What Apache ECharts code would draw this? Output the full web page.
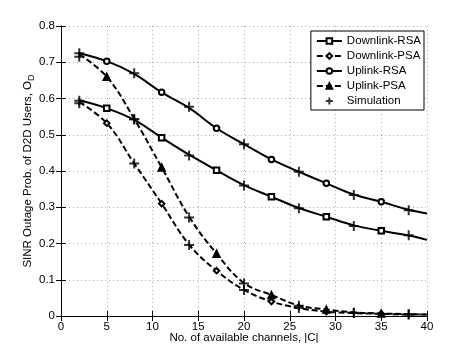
<!DOCTYPE html>
<html>
<head>
<meta charset="utf-8">
<script src="https://cdn.jsdelivr.net/npm/echarts@6/dist/echarts.min.js"></script>
<style>
  html, body { margin: 0; padding: 0; background: #fff; }
  #chart { width: 474px; height: 356px; }
</style>
</head>
<body>
<div id="chart"></div>
<script>
// analytical curves, sampled every 3 channels (plus the end point)
const xLine = [2, 5, 8, 11, 14, 17, 20, 23, 26, 29, 32, 35, 38, 40];
const downlinkRSA = [0.595, 0.573, 0.541, 0.492, 0.445, 0.402, 0.361, 0.329, 0.298, 0.274, 0.250, 0.235, 0.222, 0.210];
const downlinkPSA = [0.590, 0.532, 0.421, 0.310, 0.197, 0.125, 0.072, 0.040, 0.022, 0.012, 0.008, 0.006, 0.004, 0.004];
const uplinkRSA = [0.725, 0.703, 0.668, 0.617, 0.574, 0.518, 0.474, 0.432, 0.398, 0.366, 0.335, 0.315, 0.293, 0.283];
const uplinkPSA = [0.722, 0.660, 0.544, 0.410, 0.274, 0.172, 0.091, 0.058, 0.029, 0.018, 0.010, 0.007, 0.005, 0.004];
// markers only drawn at these x values
const markerX = [5, 11, 17, 23, 29, 35];

// simulation results
const simX = [2, 8, 14, 20, 26, 32, 38];
const simDownlinkRSA = [0.594, 0.543, 0.443, 0.360, 0.297, 0.248, 0.223];
const simDownlinkPSA = [0.587, 0.421, 0.196, 0.072, 0.022, 0.008, 0.004];
const simUplinkRSA = [0.725, 0.670, 0.577, 0.474, 0.398, 0.334, 0.292];
const simUplinkPSA = [0.715, 0.543, 0.272, 0.090, 0.028, 0.009, 0.005];

const FONT = 'Liberation Sans';
const FS = 11.5;
const crossPath = 'path://M0,5L10,5M5,0L5,10';

function lineData(ys) {
    return xLine.map((x, i) => {
        if (markerX.includes(x)) return [x, ys[i]];
        return { value: [x, ys[i]], symbol: 'none' };
    });
}

function curve(name, ys, symbol, dashed) {
    return {
        name: name,
        type: 'line',
        data: lineData(ys),
        smooth: 0.4,
        symbol: symbol,
        symbolSize: symbol === 'triangle' ? 7 : 5.5,
        showAllSymbol: true,
        lineStyle: { color: '#000', width: 2, type: dashed ? [6, 3] : 'solid' },
        itemStyle: { color: '#000', borderColor: '#000', borderWidth: 1.5 },
        z: 3,
    };
}

const simData = [];
[simDownlinkRSA, simDownlinkPSA, simUplinkRSA, simUplinkPSA].forEach((arr) => {
    arr.forEach((y, i) => simData.push([simX[i], y]));
});

const axisLine = { show: true, lineStyle: { color: '#000', width: 1 } };
const tickStyle = { show: true, inside: true, length: 5, lineStyle: { color: '#000' } };
const labelStyle = { color: '#000', fontFamily: FONT, fontSize: FS };

const option = {
    backgroundColor: '#fff',
    animation: false,
    grid: { left: 61, right: 47, top: 26, bottom: 40, outerBoundsMode: 'none' },
    legend: {
        orient: 'vertical',
        right: 50,
        top: 31,
        backgroundColor: '#fff',
        borderColor: '#000',
        borderWidth: 1,
        borderRadius: 0,
        padding: [3, 3, 2, 5],
        itemGap: 1,
        itemWidth: 25,
        itemHeight: 7,
        textStyle: { color: '#000', fontFamily: FONT, fontSize: FS, lineHeight: 14 },
        data: ['Downlink-RSA', 'Downlink-PSA', 'Uplink-RSA', 'Uplink-PSA', 'Simulation'],
    },
    xAxis: [
        {
            type: 'value', min: 0, max: 40, interval: 5,
            name: 'No. of available channels, |C|',
            nameLocation: 'middle', nameGap: 16, nameMoveOverlap: false,
            nameTextStyle: { color: '#000', fontFamily: FONT, fontSize: FS },
            axisLine: axisLine, axisTick: tickStyle,
            axisLabel: Object.assign({ margin: 5 }, labelStyle),
            splitLine: { show: true, lineStyle: { color: '#b0b0b0', type: [1, 3] } },
        },
        {
            type: 'value', min: 0, max: 40, interval: 5, position: 'top',
            axisLine: axisLine, axisTick: tickStyle,
            axisLabel: { show: false }, splitLine: { show: false },
        },
    ],
    yAxis: [
        {
            type: 'value', min: 0, max: 0.8, interval: 0.1,
            name: '{a|SINR Outage Prob. of D2D Users, O}{s|D}',
            nameLocation: 'middle', nameGap: 25, nameMoveOverlap: false,
            nameTextStyle: {
                rich: {
                    a: { color: '#000', fontFamily: FONT, fontSize: FS },
                    s: { color: '#000', fontFamily: FONT, fontSize: 9, padding: [8, 0, 0, 0] },
                },
            },
            axisLine: axisLine, axisTick: tickStyle,
            axisLabel: Object.assign({ margin: 6, formatter: (v) => (v === 0 ? '0' : v.toFixed(1)) }, labelStyle),
            splitLine: { show: true, lineStyle: { color: '#b0b0b0', type: [1, 3] } },
        },
        {
            type: 'value', min: 0, max: 0.8, interval: 0.1, position: 'right',
            axisLine: axisLine, axisTick: tickStyle,
            axisLabel: { show: false }, splitLine: { show: false },
        },
    ],
    series: [
        curve('Downlink-RSA', downlinkRSA, 'emptyRect', false),
        curve('Downlink-PSA', downlinkPSA, 'emptyDiamond', true),
        curve('Uplink-RSA', uplinkRSA, 'emptyCircle', false),
        curve('Uplink-PSA', uplinkPSA, 'triangle', true),
        {
            name: 'Simulation',
            type: 'scatter',
            data: simData,
            symbol: crossPath,
            symbolSize: 10,
            itemStyle: { color: 'none', borderColor: '#000', borderWidth: 2 },
            z: 4,
        },
    ],
};

const chart = echarts.init(document.getElementById('chart'));
chart.setOption(option);
</script>
</body>
</html>
